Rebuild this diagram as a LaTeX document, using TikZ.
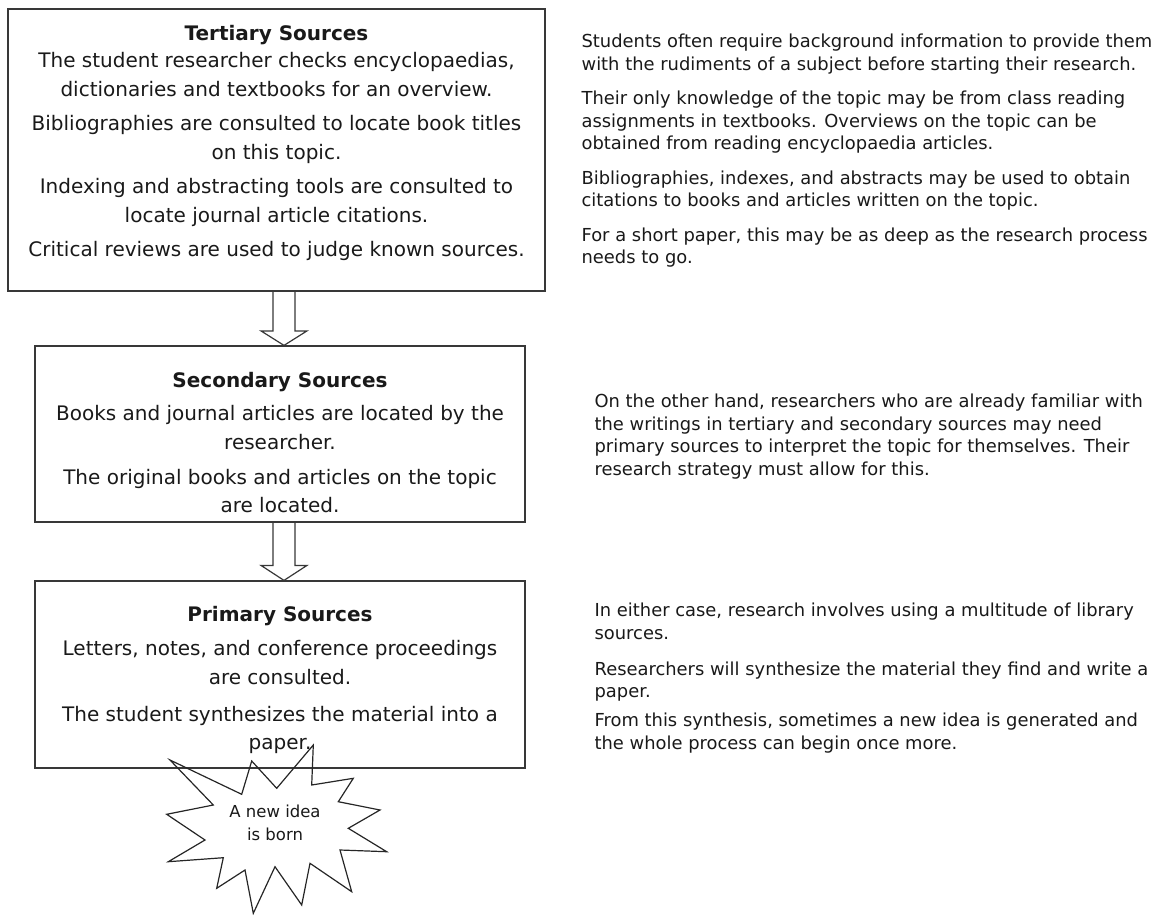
\documentclass[tikz,border=0pt]{standalone}
\usepackage{fontspec}
\setmainfont{DejaVu Sans}
\usetikzlibrary{calc}
\begin{document}
\begin{tikzpicture}[x=1pt,y=-1pt,
  line width=1.2pt,
  box/.style={draw=black!78, rectangle, inner sep=0pt},
  boxtext/.style={anchor=north, inner sep=0pt, align=center, text=black!90,
    font=\fontsize{20}{28.5}\selectfont},
  sidetext/.style={anchor=north west, inner sep=0pt, align=left, text=black!90,
    font=\fontsize{17.9}{22.5}\selectfont},
  blockarrow/.style={draw=black!78, line width=1.2pt, line join=miter},
  burst/.style={draw=black!85, line width=1.2pt, line join=miter}
]
\useasboundingbox (0,0) rectangle (1155,915);

% boxes
\node[box, minimum width=537pt, minimum height=282pt] (tert) at (276.5,150) {};
\node[box, minimum width=490pt, minimum height=176pt] (sec) at (280,434) {};
\node[box, minimum width=490pt, minimum height=187pt] (prim) at (280,674.5) {};

% box texts
\node[boxtext] (terttext) at (276.5,20) {\strut\textbf{Tertiary Sources}\\[-1.5pt]
The student researcher checks encyclopaedias,\\
dictionaries and textbooks for an overview.\\[6pt]
Bibliographies are consulted to locate book titles\\
on this topic.\\[6pt]
Indexing and abstracting tools are consulted to\\
locate journal article citations.\\[6pt]
Critical reviews are used to judge known sources.};

\node[boxtext] (sectext) at (280,367) {\strut\textbf{Secondary Sources}\\[4.5pt]
Books and journal articles are located by the\\
researcher.\\[6.5pt]
The original books and articles on the topic\\
are located.};

\node[boxtext] (primtext) at (280,601) {\strut\textbf{Primary Sources}\\[5.5pt]
Letters, notes, and conference proceedings\\
are consulted.\\[8.5pt]
The student synthesizes the material into a\\
paper.};

% block arrows
\coordinate (ax) at (284,0);
\draw[blockarrow] ($(tert.south -| ax)+(-11,0)$) -- ($(sec.north -| ax)+(-11,-14.5)$)
  -- ($(sec.north -| ax)+(-23,-14.5)$) -- (sec.north -| ax)
  -- ($(sec.north -| ax)+(23,-14.5)$) -- ($(sec.north -| ax)+(11,-14.5)$)
  -- ($(tert.south -| ax)+(11,0)$);
\draw[blockarrow] ($(sec.south -| ax)+(-11,0)$) -- ($(prim.north -| ax)+(-11,-15)$)
  -- ($(prim.north -| ax)+(-23,-15)$) -- (prim.north -| ax)
  -- ($(prim.north -| ax)+(23,-15)$) -- ($(prim.north -| ax)+(11,-15)$)
  -- ($(sec.south -| ax)+(11,0)$);

% starburst
\draw[burst] (170,760) -- (241.7,794.3) -- (251.7,761) -- (276.7,788.3) -- (313.3,745)
  -- (311.7,785) -- (353.3,778.3) -- (338.3,801.7) -- (380,810) -- (348.3,828.3)
  -- (386.7,851.7) -- (340,850) -- (351.7,891.7) -- (310,863.3) -- (301.7,905)
  -- (275,866.7) -- (253.3,913.3) -- (245,870) -- (216.7,888.3) -- (223.3,857.7)
  -- (168.3,861.7) -- (205,840) -- (166.7,814.3) -- (213.3,805) -- cycle;
\node[inner sep=0pt, align=center, text=black!90, font=\fontsize{16.5}{23}\selectfont]
  (idea) at (275,823) {A new idea\\is born};

% side texts
\node[sidetext] (side1) at (581,31.25) {\strut Students often require background information to provide them\\
with the rudiments of a subject before starting their research.\\[12pt]
Their only knowledge of the topic may be from class reading\\
assignments in textbooks. Overviews on the topic can be\\
obtained from reading encyclopaedia articles.\\[12pt]
Bibliographies, indexes, and abstracts may be used to obtain\\
citations to books and articles written on the topic.\\[12pt]
For a short paper, this may be as deep as the research process\\
needs to go.};

\node[sidetext] (side2) at (594,391.25) {\strut On the other hand, researchers who are already familiar with\\
the writings in tertiary and secondary sources may need\\
primary sources to interpret the topic for themselves. Their\\
research strategy must allow for this.};

\node[sidetext] (side3) at (594,600.25) {\strut In either case, research involves using a multitude of library\\
sources.\\[13.5pt]
Researchers will synthesize the material they find and write a\\
paper.\\[6.5pt]
From this synthesis, sometimes a new idea is generated and\\
the whole process can begin once more.};
\end{tikzpicture}
\end{document}
